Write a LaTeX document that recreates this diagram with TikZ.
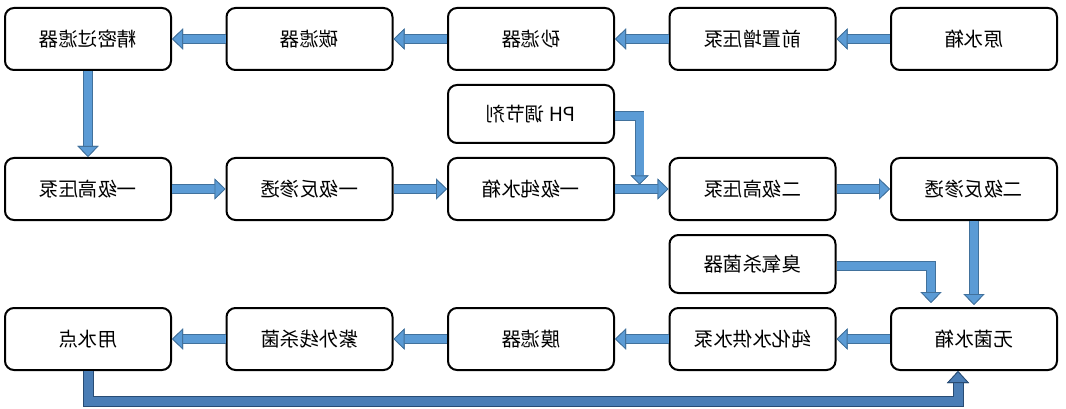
\documentclass[tikz,border=0pt]{standalone}
\usepackage{fontspec}
\usepackage{graphicx}
\newfontfamily\cjk{Noto Sans CJK SC}
\usetikzlibrary{positioning,arrows.meta,calc}
\definecolor{pipefill}{RGB}{91,155,213}
\definecolor{pipeedge}{RGB}{65,113,156}
\definecolor{backfill}{RGB}{74,125,181}
\definecolor{backedge}{RGB}{40,76,116}
\newcommand{\mtext}[1]{\reflectbox{\cjk #1}}

\begin{document}
\begin{tikzpicture}[node distance=13pt and 53.5pt]
\tikzstyle{stage}=[draw,line width=2pt,rounded corners=9pt,minimum width=166pt,minimum height=62pt,inner sep=0pt,font=\fontsize{19.5}{21}\selectfont]
\tikzstyle{extra}=[stage,minimum height=58pt]
\tikzstyle{pipe}=[line width=8pt,draw=pipefill,-{Triangle[length=11pt,width=21pt,fill=pipefill,color=pipeedge,line width=0.8pt]},preaction={draw=pipeedge,line width=9.6pt}]
\tikzstyle{thinpipe}=[pipe,-{Triangle[length=9pt,width=18pt,fill=pipefill,color=pipeedge,line width=0.8pt]}]
\tikzstyle{back}=[line width=9pt,draw=backfill,-{Triangle[length=12pt,width=22pt,fill=backfill,color=backedge,line width=0.8pt]},preaction={draw=backedge,line width=11pt}]
\useasboundingbox (0,0) rectangle (1066pt,-409pt);
\node[stage] (raw) at (974pt,-39pt) {\mtext{原水箱}};
\node[stage] (boost) [left=of raw] {\mtext{前置增压泵}};
\node[stage] (sand) [left=of boost] {\mtext{砂滤器}};
\node[stage] (carbon) [left=of sand] {\mtext{碳滤器}};
\node[stage] (fine) [left=of carbon] {\mtext{精密过滤器}};
\node[extra] (ph) [below=of sand] {\mtext{PH 调节剂}};
\node[stage] (tank1) [below=of ph] {\mtext{一级纯水箱}};
\node[stage] (ro1) [left=of tank1] {\mtext{一级反渗透}};
\node[stage] (hp1) [left=of ro1] {\mtext{一级高压泵}};
\node[stage] (hp2) [right=of tank1] {\mtext{二级高压泵}};
\node[stage] (ro2) [right=of hp2] {\mtext{二级反渗透}};
\node[extra] (ozone) [below=of hp2] {\mtext{臭氧杀菌器}};
\node[stage] (supply) [below=of ozone] {\mtext{纯化水供水泵}};
\node[stage] (sterile) [right=of supply] {\mtext{无菌水箱}};
\node[stage] (memb) [left=of supply] {\mtext{膜滤器}};
\node[stage] (uv) [left=of memb] {\mtext{紫外线杀菌}};
\node[stage] (use) [left=of uv] {\mtext{用水点}};
\coordinate (phin) at ($(tank1.east)!0.46!(hp2.west)+(0,4.5pt)$);
\coordinate (bend) at ([xshift=-16pt,yshift=-30.5pt]sterile.south);
\draw[pipe] (raw.west) -- (boost.east);
\draw[pipe] (boost.west) -- (sand.east);
\draw[pipe] (sand.west) -- (carbon.east);
\draw[pipe] (carbon.west) -- (fine.east);
\draw[pipe] (fine.south) -- (hp1.north);
\draw[pipe] (hp1.east) -- (ro1.west);
\draw[pipe] (ro1.east) -- (tank1.west);
\draw[pipe] (tank1.east) -- (hp2.west);
\draw[pipe] (hp2.east) -- (ro2.west);
\draw[thinpipe] ([yshift=-2pt]ph.east) -| (phin);
\draw[pipe,shorten >=2pt] (ro2.south) -- (sterile.north);
\draw[pipe,shorten >=4pt] ([yshift=-2pt]ozone.east) -| ([xshift=-43pt]sterile.north);
\draw[pipe] (sterile.west) -- (supply.east);
\draw[pipe] (supply.west) -- (memb.east);
\draw[pipe] (memb.west) -- (uv.east);
\draw[pipe] (uv.west) -- (use.east);
\draw[back] (use.south) |- (bend) -- ([xshift=-16pt]sterile.south);
\end{tikzpicture}
\end{document}
